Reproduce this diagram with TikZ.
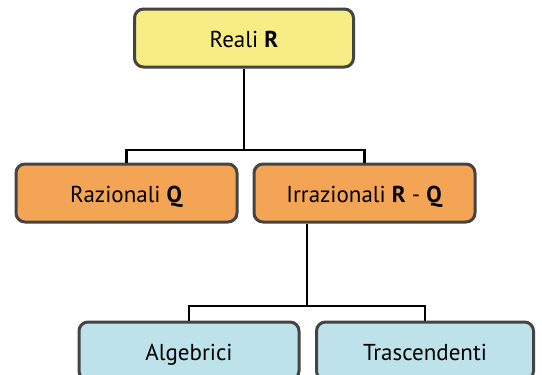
\documentclass[tikz,border=0pt]{standalone}
\usepackage{fontspec}
\setmainfont{PT Sans}
\definecolor{cyellow}{RGB}{248,236,132}
\definecolor{corange}{RGB}{243,164,84}
\definecolor{cblue}{RGB}{190,226,234}
\definecolor{cborder}{RGB}{68,68,68}
\begin{document}
\begin{tikzpicture}[x=1pt,y=-1pt,
  box/.style={draw=cborder,line width=3pt,rounded corners=9pt,minimum height=58pt,inner sep=0pt,text height=18pt,text depth=0pt,font=\fontsize{23}{27}\selectfont},
  conn/.style={draw=black,line width=2.2pt}]
\useasboundingbox (0,0) rectangle (542,375);
\clip (0,0) rectangle (542,375);
\node[box,fill=cyellow,minimum width=219pt] (R) at (244,38) {Reali \textbf{R}};
\node[box,fill=corange,minimum width=221pt] (Q) at (126.5,193) {Razionali \textbf{Q}};
\node[box,fill=corange,minimum width=221pt] (I) at (364.5,193) {Irrazionali \textbf{R} - \textbf{Q}};
\node[box,fill=cblue,minimum width=220pt] (A) at (189,351) {Algebrici};
\node[box,fill=cblue,minimum width=217pt] (T) at (425,351) {Trascendenti};
\coordinate (j1) at (244,150);
\coordinate (j2) at (307,306);
\draw[conn] (R.south) -- (j1);
\draw[conn] (Q.north) |- (j1) -| (I.north);
\draw[conn] (j2 |- I.south) -- (j2);
\draw[conn] (A.north) |- (j2) -| (T.north);
\end{tikzpicture}
\end{document}
